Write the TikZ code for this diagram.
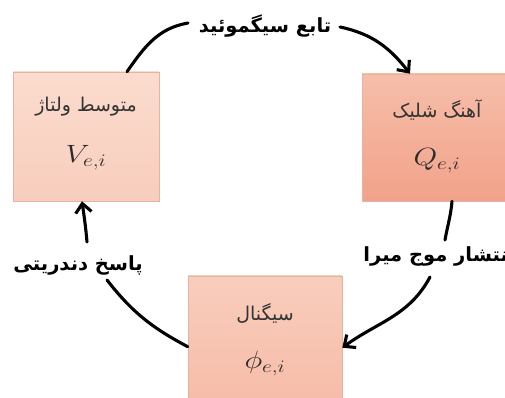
\documentclass[tikz,border=0pt]{standalone}
\usepackage{fix-cm}
\usepackage{fontspec}
\usetikzlibrary{arrows.meta}
\TeXXeTstate=1
\newfontfamily\fa[Script=Arabic]{DejaVu Sans}
\definecolor{vtop}{HTML}{FBDCCE}
\definecolor{vbot}{HTML}{F8CDBD}
\definecolor{qtop}{HTML}{F6BEA9}
\definecolor{qbot}{HTML}{F2A28A}
\definecolor{ptop}{HTML}{F9CDBC}
\definecolor{pbot}{HTML}{F6BCA8}
\definecolor{boxline}{HTML}{E2B4A4}
\definecolor{txt}{HTML}{333333}
\newcommand{\wide}[1]{\scalebox{1.22}[1]{#1}}
\begin{document}
\begin{tikzpicture}[x=1pt,y=1pt,
  cell/.style={draw=boxline, line width=0.6pt, inner sep=0pt, rectangle},
  celltext/.style={text=txt, font=\fa\fontsize{19}{22}\selectfont, inner sep=0pt},
  cellmath/.style={text=txt!85!black, font=\fontsize{25}{30}\selectfont, inner sep=0pt},
  edgelabel/.style={font=\fa\bfseries\fontsize{19.5}{22}\selectfont, inner sep=0pt},
  link/.style={line width=3.1pt, line cap=round},
  arrowlink/.style={link, -{Straight Barb[length=9pt,width=16pt]}}
]
\useasboundingbox (0,0) rectangle (505,398);
\clip (0,0) rectangle (505,398);

% boxes
\node[cell, top color=vtop, bottom color=vbot, minimum width=146pt, minimum height=129pt] (V) at (86,261.5) {};
\node[cell, top color=qtop, bottom color=qbot, minimum width=150pt, minimum height=127pt] (Q) at (437,260.5) {};
\node[cell, top color=ptop, bottom color=pbot, minimum width=154pt, minimum height=130pt] (P) at (265,57) {};

\node[celltext] (Vt) at ([yshift=-35pt]V.north) {\beginR متوسط ولتاژ\endR};
\node[cellmath] (Vm) at ([yshift=-86pt]V.north) {\wide{$V_{e,i}$}};
\node[celltext] (Qt) at ([yshift=-36pt]Q.north) {\beginR آهنگ شلیک\endR};
\node[cellmath] (Qm) at ([yshift=-87pt]Q.north) {\wide{$Q_{e,i}$}};
\node[celltext] (Pt) at ([yshift=-38pt]P.north) {\beginR سیگنال\endR};
\node[cellmath] (Pm) at ([yshift=-88pt]P.north) {\wide{$\phi_{e,i}$}};

% edge labels
\node[edgelabel] (T) at (265,372) {\beginR تابع سیگموئید\endR};
\node[edgelabel] (R) at (439,142) {\beginR انتشار موج میرا\endR};
\node[edgelabel] (L) at (78,133) {\beginR پاسخ دندریتی\endR};

% connectors
\draw[link] ([xshift=41pt]V.north) to[out=55,in=190] ([shift={(-77,3)}]T.center);
\draw[arrowlink] ([shift={(75,-1)}]T.center) to[out=-12,in=128] ([xshift=-27pt]Q.north);

\draw[link] ([xshift=15pt]Q.south) to[out=-95,in=80] ([shift={(6,16)}]R.center);
\draw[arrowlink] ([shift={(-9,-21)}]R.center) to[out=-118,in=36] ([yshift=-72pt]P.north east);

\draw[link] ([yshift=-71pt]P.north west) to[out=152,in=-52] ([shift={(29,-15)}]L.center);
\draw[arrowlink] ([shift={(9,23)}]L.center) to[out=95,in=-82] ([xshift=-4pt]V.south);
\end{tikzpicture}
\end{document}
